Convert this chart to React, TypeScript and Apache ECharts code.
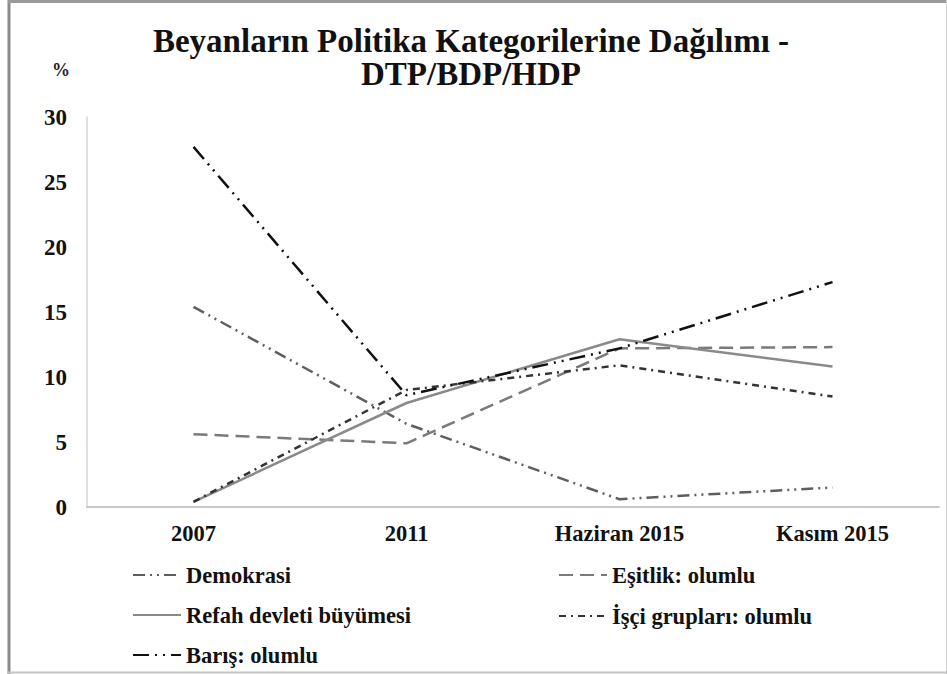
import React, { useEffect, useRef } from "react";
import * as echarts from "echarts";

const categories = ["2007", "2011", "Haziran 2015", "Kasım 2015"];
const demokrasi = [15.4, 6.4, 0.6, 1.5];
const esitlik = [5.6, 4.9, 12.2, 12.3];
const refah = [0.4, 8.0, 12.9, 10.8];
const isci = [0.4, 9.0, 10.9, 8.5];
const baris = [27.7, 8.6, 12.2, 17.3];
const yTicks = { min: 0, max: 30, interval: 5 };

const FONT = "Liberation Serif";

export default function App() {
  const ref = useRef<HTMLDivElement>(null);
  useEffect(() => {
    const chart = echarts.init(ref.current!, null, { renderer: "svg" });
    const mk = (name: string, data: number[], color: string, type: any, width: number, z = 2) => ({
      name,
      type: "line",
      data,
      symbol: "none",
      z,
      lineStyle: { color, type, width },
      itemStyle: { color },
    });
    const legendText = { fontFamily: FONT, fontWeight: "bold", fontSize: 22.5, color: "#111", lineHeight: 23 };
    const leg = (name: string, left: number, cy: number) => ({
      data: [name],
      left,
      top: cy - 11.5,
      padding: 0,
      itemWidth: 48,
      itemHeight: 14,
      itemStyle: { opacity: 0 },
      textStyle: legendText,
    });
    chart.setOption({
      animation: false,
      backgroundColor: "#fff",
      title: {
        text: "Beyanların Politika Kategorilerine Dağılımı -\nDTP/BDP/HDP",
        left: 471,
        top: 24,
        padding: 0,
        textAlign: "center",
        textStyle: { fontFamily: FONT, fontWeight: "bold", fontSize: 33, color: "#111", lineHeight: 33 },
      },
      graphic: [
        { type: "line", shape: { x1: 9, y1: 0, x2: 9, y2: 674 }, style: { stroke: "#8c8c8c", lineWidth: 3 }, silent: true },
        { type: "line", shape: { x1: 8, y1: 1.5, x2: 947, y2: 1.5 }, style: { stroke: "#9a9a9a", lineWidth: 3 }, silent: true },
        { type: "line", shape: { x1: 946.5, y1: 0, x2: 946.5, y2: 674 }, style: { stroke: "#d0d0d0", lineWidth: 1 }, silent: true },
        { type: "line", shape: { x1: 8, y1: 672.5, x2: 947, y2: 672.5 }, style: { stroke: "#c4c4c4", lineWidth: 2 }, silent: true },
        {
          type: "text",
          left: 52,
          top: 61,
          style: { text: "%", fontFamily: FONT, fontWeight: "bold", fontSize: 18, fill: "#222" },
        },
      ],
      grid: { left: 87, right: 8, top: 117, bottom: 167 },
      xAxis: {
        type: "category",
        data: categories,
        boundaryGap: true,
        axisLine: { show: true, lineStyle: { color: "#c8c8c8", width: 2 } },
        axisTick: { show: false },
        axisLabel: { fontFamily: FONT, fontWeight: "bold", fontSize: 22.5, color: "#111", margin: 15 },
      },
      yAxis: {
        type: "value",
        min: yTicks.min,
        max: yTicks.max,
        interval: yTicks.interval,
        axisLine: { show: true, lineStyle: { color: "#d6d6d6", width: 1.5 } },
        axisTick: { show: false },
        splitLine: { show: false },
        axisLabel: { fontFamily: FONT, fontWeight: "bold", fontSize: 23, color: "#111", margin: 20 },
      },
      legend: [
        leg("Demokrasi", 132, 575),
        leg("Refah devleti büyümesi", 132, 615),
        leg("Barış: olumlu", 132, 655),
        leg("Eşitlik: olumlu", 558, 575),
        leg("İşçi grupları: olumlu", 558, 616),
      ],
      series: [
        mk("Demokrasi", demokrasi, "#5e5e5e", [12, 5, 2, 5, 2, 5], 2.5),
        mk("Eşitlik: olumlu", esitlik, "#7a7a7a", [14, 7], 2.5),
        mk("Refah devleti büyümesi", refah, "#8a8a8a", "solid", 2.5),
        mk("İşçi grupları: olumlu", isci, "#333", [7, 5, 2, 5], 2.5),
        mk("Barış: olumlu", baris, "#111", [16, 6, 2, 6, 2, 6], 2.5, 3),
      ],
    });
    return () => chart.dispose();
  }, []);
  return (
    <div
      ref={ref}
      style={{ position: "fixed", left: 0, top: 0, width: 947, height: 674 }}
    />
  );
}
